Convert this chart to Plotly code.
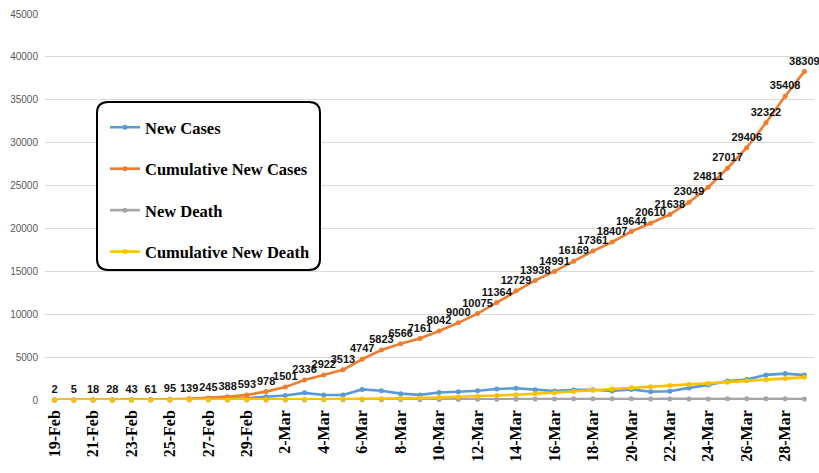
import plotly.graph_objects as go

# Daily report dates, 19 Feb – 29 Mar
dates = (
    [f"{d}-Feb" for d in range(19, 30)]
    + [f"{d}-Mar" for d in range(1, 30)]
)

new_cases = [2, 3, 13, 10, 15, 18, 34, 44, 106, 143, 205, 385, 523, 835, 586,
             591, 1234, 1076, 743, 595, 881, 958, 1075, 1289, 1365, 1209, 1053,
             1178, 1192, 1046, 1237, 966, 1028, 1411, 1762, 2206, 2389, 2926,
             3076, 2901]

cumulative_cases = [2, 5, 18, 28, 43, 61, 95, 139, 245, 388, 593, 978, 1501,
                    2336, 2922, 3513, 4747, 5823, 6566, 7161, 8042, 9000, 10075,
                    11364, 12729, 13938, 14991, 16169, 17361, 18407, 19644,
                    20610, 21638, 23049, 24811, 27017, 29406, 32322, 35408,
                    38309]

new_deaths = [2, 2, 0, 1, 3, 4, 4, 3, 7, 8, 9, 11, 12, 11, 15, 16, 16, 21, 49,
              43, 54, 63, 75, 85, 97, 113, 129, 135, 147, 149, 149, 123, 129,
              127, 122, 143, 157, 144, 139, 123]

cumulative_deaths = [2, 4, 4, 5, 8, 12, 16, 19, 26, 34, 43, 54, 66, 77, 92,
                     108, 124, 145, 194, 237, 291, 354, 429, 514, 611, 724, 853,
                     988, 1135, 1284, 1433, 1556, 1685, 1812, 1934, 2077, 2234,
                     2378, 2517, 2640]

y_ticks = list(range(0, 45001, 5000))
x_ticks = dates[::2]

series = [
    ("New Cases", new_cases, "#5B9BD5"),
    ("Cumulative New Cases", cumulative_cases, "#ED7D31"),
    ("New Death", new_deaths, "#A5A5A5"),
    ("Cumulative New Death", cumulative_deaths, "#FFC000"),
]

fig = go.Figure()
for name, values, color in series:
    labelled = name == "Cumulative New Cases"
    fig.add_trace(go.Scatter(
        x=dates,
        y=values,
        name=name,
        legendgroup=name,
        mode="lines+markers+text" if labelled else "lines+markers",
        text=[str(v) for v in values] if labelled else None,
        textposition="top center",
        textfont=dict(family="Liberation Sans", size=11, color="#111111",
                      weight="bold"),
        line=dict(color=color, width=2.6),
        marker=dict(color=color, size=5),
        cliponaxis=False,
    ))

# Plot-area geometry in pixels, used to place the rounded legend frame
W, H = 819, 473
ML, MR, MT, MB = 45, 5, 14, 73
PW, PH = W - ML - MR, H - MT - MB


def px_to_paper(px, py):
    return (px - ML) / PW, (H - MB - py) / PH


def rounded_box(x0, y0, x1, y1, r):
    pts = {
        "a": px_to_paper(x0 + r, y0), "b": px_to_paper(x1 - r, y0),
        "c": px_to_paper(x1, y0), "d": px_to_paper(x1, y0 + r),
        "e": px_to_paper(x1, y1 - r), "f": px_to_paper(x1, y1),
        "g": px_to_paper(x1 - r, y1), "h": px_to_paper(x0 + r, y1),
        "i": px_to_paper(x0, y1), "j": px_to_paper(x0, y1 - r),
        "k": px_to_paper(x0, y0 + r), "l": px_to_paper(x0, y0),
    }
    p = lambda k: f"{pts[k][0]:.5f},{pts[k][1]:.5f}"
    return (f"M {p('a')} L {p('b')} Q {p('c')} {p('d')} L {p('e')} "
            f"Q {p('f')} {p('g')} L {p('h')} Q {p('i')} {p('j')} "
            f"L {p('k')} Q {p('l')} {p('a')} Z")


fig.add_shape(
    type="path",
    xref="paper", yref="paper",
    path=rounded_box(97, 102, 320, 270, 11),
    line=dict(color="#000000", width=2),
    fillcolor="#FFFFFF",
    layer="above",
)

lx, ly = px_to_paper(105, 110)

fig.update_layout(
    width=W, height=H,
    margin=dict(l=ML, r=MR, t=MT, b=MB, pad=0),
    paper_bgcolor="#FFFFFF",
    plot_bgcolor="#FFFFFF",
    showlegend=True,
    legend=dict(
        x=lx, y=ly, xanchor="left", yanchor="top",
        bgcolor="rgba(0,0,0,0)",
        borderwidth=0,
        font=dict(family="Liberation Serif", size=16.5, color="#000000",
                  weight="bold"),
        tracegroupgap=17,
        itemwidth=30,
    ),
    xaxis=dict(
        type="category",
        categoryorder="array",
        categoryarray=dates,
        range=[-0.5, len(dates) - 0.5],
        tickmode="array",
        tickvals=x_ticks,
        ticktext=x_ticks,
        tickangle=-90,
        tickfont=dict(family="Liberation Serif", size=16, color="#000000",
                      weight="bold"),
        ticklabelstandoff=6,
        showgrid=False,
        showline=False,
        zeroline=False,
        ticks="",
    ),
    yaxis=dict(
        range=[0, 45000],
        tickmode="array",
        tickvals=y_ticks,
        ticktext=[str(v) for v in y_ticks],
        tickfont=dict(family="Liberation Sans", size=10, color="#595959"),
        ticklabelstandoff=6,
        showgrid=True,
        gridcolor="#D9D9D9",
        gridwidth=1,
        zeroline=False,
        showline=False,
        ticks="",
    ),
)

fig.write_html("out.html")
